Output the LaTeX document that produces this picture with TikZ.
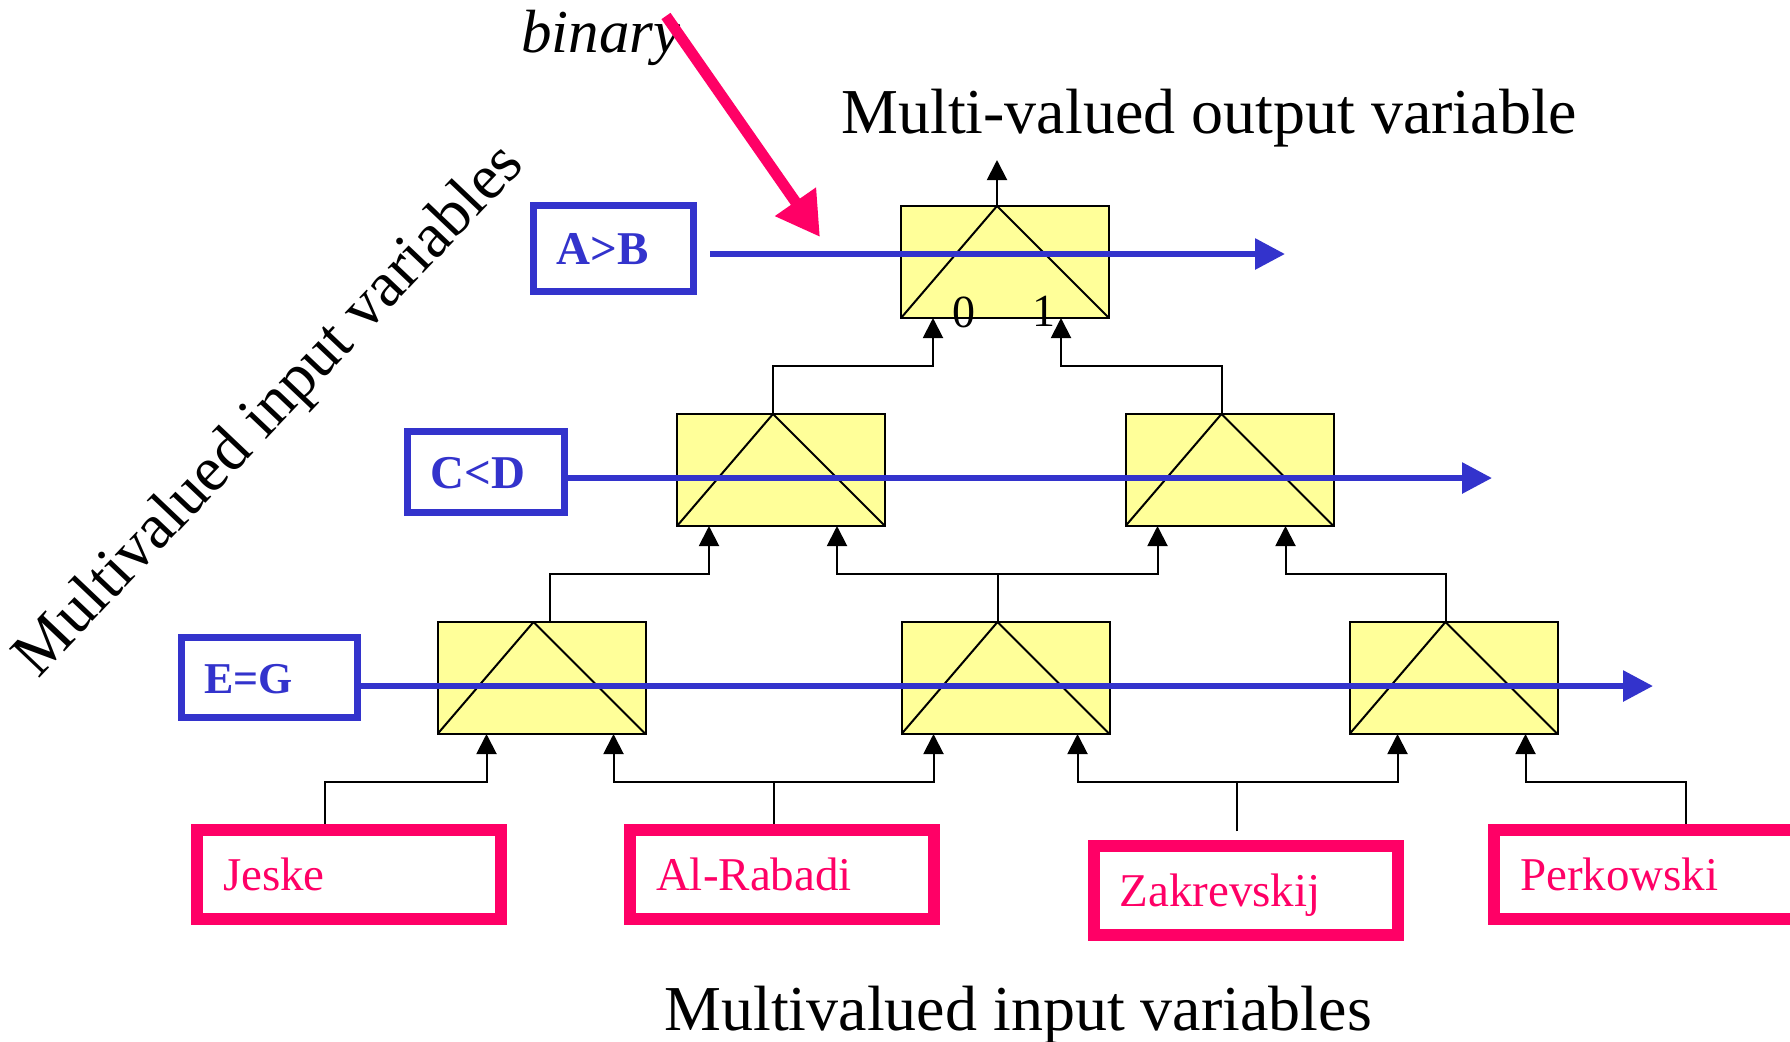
\documentclass[tikz,border=0pt]{standalone}
\usepackage{fontspec}
\setmainfont{Liberation Serif}
\usetikzlibrary{arrows.meta,calc}
\definecolor{vblue}{HTML}{3333CC}
\definecolor{vpink}{HTML}{FF0066}
\definecolor{vyellow}{HTML}{FFFF99}
\begin{document}
\begin{tikzpicture}[x=0.5pt,y=-0.5pt,
  mux/.style={rectangle,draw=black,line width=1pt,fill=vyellow,minimum width=104pt,minimum height=56pt,inner sep=0pt,outer sep=0pt,
    path picture={\draw[black,line width=1pt] (path picture bounding box.south west) -- ([xshift=-4pt]path picture bounding box.north) -- (path picture bounding box.south east);}},
  varbox/.style={rectangle,draw=vblue,line width=3.5pt,text=vblue,font=\fontsize{23.5pt}{28pt}\selectfont\bfseries,inner xsep=11.5pt,inner ysep=0pt,outer sep=0pt,align=left,text height=16pt,text depth=0pt},
  namebox/.style={rectangle,draw=vpink,line width=6pt,text=vpink,font=\fontsize{23.5pt}{28pt}\selectfont,inner xsep=13pt,inner ysep=0pt,outer sep=0pt,align=left,text width=126pt,minimum height=44.5pt,text height=16pt,text depth=0pt},
  wire/.style={black,line width=1pt},
  wirearr/.style={wire,-{Triangle[length=10pt,width=10pt]}},
  bus/.style={vblue,line width=3pt,-{Triangle[length=15pt,width=15pt]}},
  bigtext/.style={font=\fontsize{32pt}{38pt}\selectfont,inner sep=0pt},
  digit/.style={font=\fontsize{23pt}{28pt}\selectfont,inner sep=0pt,anchor=base},
]
\fill[white] (0,0) rectangle (1790,1041);
\useasboundingbox (0,0) rectangle (1790,1041);
\clip (0,0) rectangle (1790,1041);

% texts
\node[bigtext,anchor=base west,font=\fontsize{30.5pt}{36pt}\selectfont\itshape] (bin) at (521,52) {binary};
\node[bigtext,anchor=base west] (outlbl) at (841,133) {Multi-valued output variable};
\node[bigtext,anchor=base west] (inlbl) at (664,1030) {Multivalued input variables};
\node[bigtext,rotate=46.5] (diag) at (271,412) {Multivalued input variables};

% multiplexers
\node[mux] (m0) at (1005,262) {};
\node[mux] (m1a) at (781,470) {};
\node[mux] (m1b) at (1229.5,470) {};
\node[mux] (m2a) at (541.5,678) {};
\node[mux] (m2b) at (1005.5,678) {};
\node[mux] (m2c) at (1453.5,678) {};

\node[digit] (l0) at (964,327) {0};
\node[digit] (l1) at (1044,326) {1};

% input name boxes
\node[namebox] (jes) at (349,874.5) {Jeske};
\node[namebox] (alr) at (782,874.5) {Al-Rabadi};
\node[namebox] (zak) at (1245.5,890.5) {Zakrevskij};
\node[namebox] (per) at (1646,874) {Perkowski};

% control variable boxes
\node[varbox,text width=57pt,minimum height=43pt] (ab) at (613.5,248.5) {A>B};
\node[varbox,text width=55.5pt,minimum height=40.5pt] (cd) at (486,472) {C<D};
\node[varbox,text width=65pt,minimum height=40pt,font=\fontsize{22pt}{26pt}\selectfont\bfseries] (eg) at (269,677.5) {E=G};

% output
\coordinate (out) at ($(m0.north)+(-8,-46)$);
\draw[wirearr] ($(m0.north)+(-8,0)$) -- (out);

% level 1 -> top
\draw[wirearr] ($(m1a.north)+(-8,0)$) |- ($(m0.south west)+(32,48)$) -- ($(m0.south west)+(32,0)$);
\draw[wirearr] ($(m1b.north)+(-8,0)$) |- ($(m0.south west)+(160,48)$) -- ($(m0.south west)+(160,0)$);

% level 2 -> level 1
\draw[wirearr] ($(m2a.north west)+(112,0)$) |- ($(m1a.south west)+(32,48)$) -- ($(m1a.south west)+(32,0)$);
\draw[wirearr] ($(m2b.north)+(-8,0)$) |- ($(m1a.south west)+(160,48)$) -- ($(m1a.south west)+(160,0)$);
\draw[wirearr] ($(m2b.north)+(-8,0)$) |- ($(m1b.south west)+(32,48)$) -- ($(m1b.south west)+(32,0)$);
\draw[wirearr] ($(m2c.north)+(-8,0)$) |- ($(m1b.south west)+(160,48)$) -- ($(m1b.south west)+(160,0)$);

% inputs -> level 2
\draw[wirearr] ($(jes.north west)+(128,-6)$) |- ($(m2a.south west)+(49,48)$) -- ($(m2a.south west)+(49,0)$);
\draw[wirearr] ($(alr.north west)+(144,-6)$) |- ($(m2a.south west)+(176,48)$) -- ($(m2a.south west)+(176,0)$);
\draw[wirearr] ($(alr.north west)+(144,-6)$) |- ($(m2b.south west)+(32,48)$) -- ($(m2b.south west)+(32,0)$);
\draw[wirearr] ($(zak.north west)+(143.5,-15)$) |- ($(m2b.south west)+(176,48)$) -- ($(m2b.south west)+(176,0)$);
\draw[wirearr] ($(zak.north west)+(143.5,-15)$) |- ($(m2c.south west)+(48,48)$) -- ($(m2c.south west)+(48,0)$);
\draw[wirearr] ($(per.north west)+(192,-6)$) |- ($(m2c.south west)+(176,48)$) -- ($(m2c.south west)+(176,0)$);

% control buses
\coordinate (abEnd) at ($(ab.east)+(591.5,5.5)$);
\coordinate (cdEnd) at ($(cd.east)+(927.5,6)$);
\coordinate (egEnd) at ($(eg.east)+(1296,8.5)$);
\draw[bus] ($(ab.east)+(16.5,5.5)$) -- (abEnd);
\draw[bus] ($(cd.east)+(0,6)$) -- (cdEnd);
\draw[bus] ($(eg.east)+(0,8.5)$) -- (egEnd);

% pink pointer
\coordinate (pinkS) at (666,16);
\coordinate (pinkE) at (820,237);
\draw[vpink,line width=5.5pt,-{Triangle[length=21.5pt,width=23.5pt]}] (pinkS) -- (pinkE);
\end{tikzpicture}
\end{document}
